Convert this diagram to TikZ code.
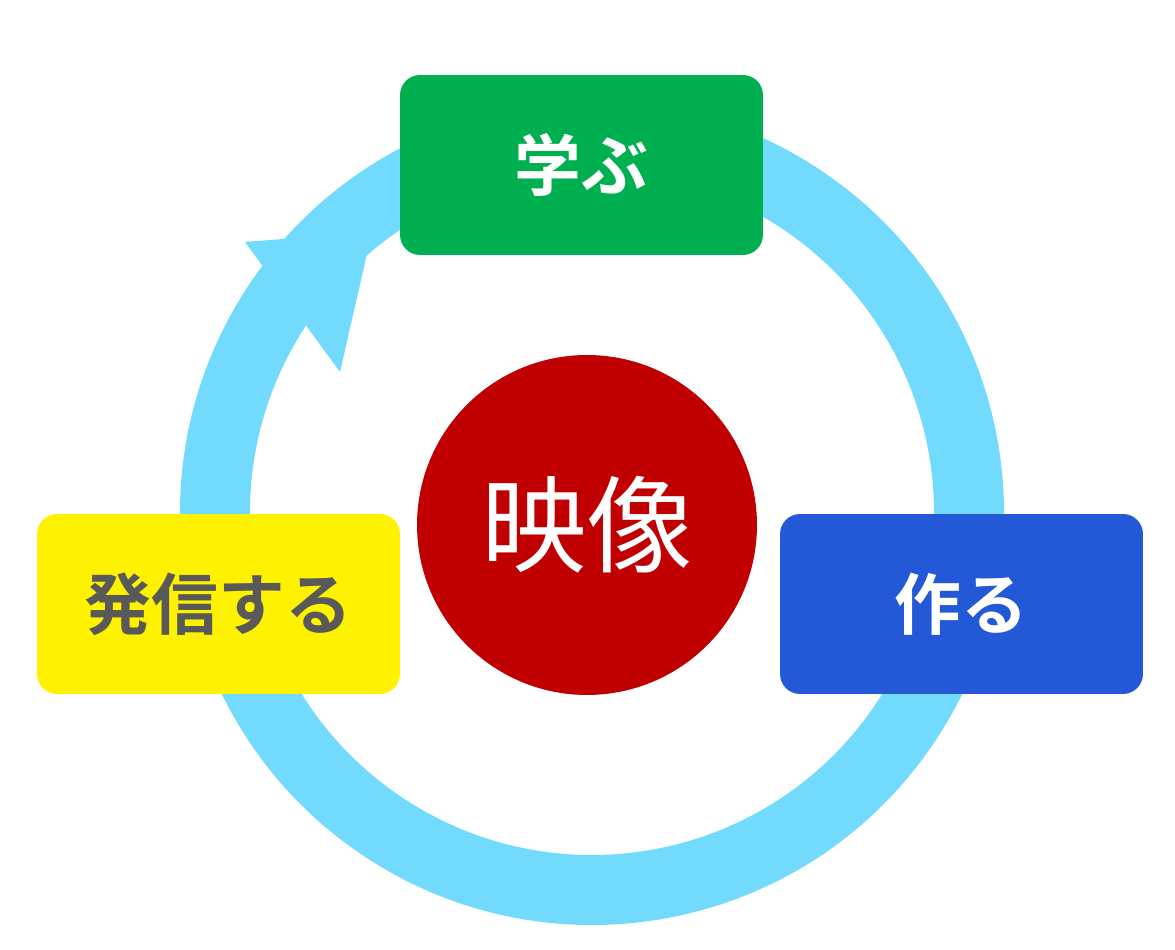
\documentclass[tikz,border=0pt]{standalone}
\usepackage{fontspec}
\newfontfamily\jp{Noto Sans CJK JP}
\newfontfamily\jpb{Noto Sans CJK JP Bold}
\definecolor{ring}{HTML}{72DBFD}
\definecolor{gr}{HTML}{00B050}
\definecolor{bl}{HTML}{2359D6}
\definecolor{rd}{HTML}{C00000}
\definecolor{gy}{HTML}{595959}
\begin{document}
\begin{tikzpicture}[x=0.02cm,y=0.02cm,
  box/.style={rounded corners=0.4cm,minimum width=7.26cm,minimum height=3.6cm,inner sep=0pt,font=\jpb\fontsize{38pt}{40pt}\selectfont}]
\useasboundingbox (0,0) rectangle (1175,949);
\fill[white] (0,0) rectangle (1175,949);
\draw[ring,line width=1.4cm] (592,436) ++(145:377) arc[start angle=145,end angle=-300,radius=377];
\fill[ring] (245,707) -- (372,717) -- (340,577) -- cycle;
\node[box,fill=gr,text=white] (learn) at (581.5,784) {学ぶ};
\node[box,fill=yellow,text=gy] (send) at (218.5,345) {発信する};
\node[box,fill=bl,text=white] (make) at (961.5,345) {作る};
\node[circle,fill=rd,minimum size=6.8cm,inner sep=0pt,text=white,font=\jp\fontsize{60pt}{62pt}\selectfont] (video) at (587,424) {映像};
\end{tikzpicture}
\end{document}
